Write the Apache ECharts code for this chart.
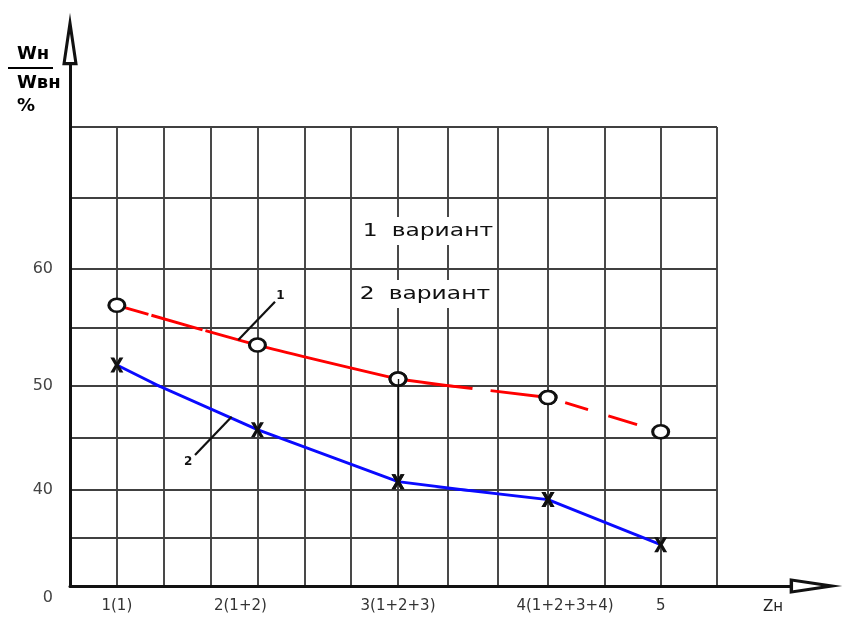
<!DOCTYPE html>
<html>
<head>
<meta charset="utf-8">
<script src="https://cdn.jsdelivr.net/npm/echarts@6/dist/echarts.min.js"></script>
<style>html,body{margin:0;padding:0;background:#fff}#c{width:843px;height:617px}</style>
</head>
<body>
<div id="c"></div>
<script>
// ---------------- data ----------------
const categories = ['1(1)', '2(1+2)', '3(1+2+3)', '4(1+2+3+4)', '5'];
const xPositions = [1, 4, 7, 10, 12];               // grid column of each category on the Zн axis
const variant1 = [56.9, 53.5, 50.6, 48.9, 45.6];    // 1 вариант (red, circles)
const variant2 = [51.8, 45.8, 40.8, 39.0, 34.3];    // 2 вариант (blue, crosses)
const seriesNames = ['1 вариант', '2 вариант'];
const yTickLabels = [40, 50, 60];
const yOriginLabel = '0';
const xAxisName = 'Zн';
const leader1 = [[3.59, 53.93], [4.375, 57.21]];    // pointer "1" to curve 1
const leader2 = [[3.45, 47.05], [2.668, 43.37]];    // pointer "2" to curve 2
const leaderLabels = ['1', '2'];

// ---------------- layout (hand-drawn, unevenly spaced grid) ----------------
const X_PIECES = [
  {min: 0, max: 7, left: 70, right: 398},
  {min: 7, max: 10, left: 398, right: 548},
  {min: 10, max: 13, left: 548, right: 717}
];
const Y_PIECES = [
  {min: 60, max: 70, top: 127, bottom: 269},
  {min: 50, max: 60, top: 269, bottom: 386},
  {min: 40, max: 50, top: 386, bottom: 490},
  {min: 30, max: 40, top: 490, bottom: 586}
];
const X_LABEL_STYLE = ['c', 'l', 'c', 'r', 'c'];
const GRID_COLOR = '#404040', GRID_W = 1.9;
const AXIS_COLOR = '#111';
const RED = '#ff0000', BLUE = '#0a0aff';
const ARROW = 'path://M5,0L10,34L0,34Z M5,13.6L2.3,31.8L7.7,31.8Z';
const CROSS = 'path://M0,0L3,0L5,3.9L7,0L10,0L6.6,6L10,12L7,12L5,8.1L3,12L0,12L3.4,6Z';
const FONT = 'DejaVu Sans';

const grids = [], xAxes = [], yAxes = [], series = [];
const gridKey = {};
const seriesByGrid = {};

Y_PIECES.forEach((yp, j) => {
  X_PIECES.forEach((xp, i) => {
    const gi = grids.length;
    gridKey[i + '_' + j] = gi;
    const isBottom = j === Y_PIECES.length - 1;
    const isLeft = i === 0;
    grids.push({left: xp.left, top: yp.top, width: xp.right - xp.left, height: yp.bottom - yp.top,
      containLabel: false, outerBoundsMode: 'none'});
    xAxes.push({
      type: 'value', gridIndex: gi, min: xp.min, max: xp.max, interval: 1,
      axisLine: {show: false, onZero: false}, axisTick: {show: false},
      splitLine: {show: true, showMinLine: false, showMaxLine: true, lineStyle: {color: GRID_COLOR, width: GRID_W}},
      axisLabel: {
        show: isBottom, margin: 13, showMinLabel: true, showMaxLabel: true,
        fontSize: 15, fontFamily: FONT, color: '#333',
        formatter: (v) => {
          const k = xPositions.indexOf(v);
          if (k < 0 || v <= xp.min) return '';
          return '{' + X_LABEL_STYLE[k] + '|' + categories[k] + '}';
        },
        rich: {
          c: {fontSize: 15, fontFamily: FONT, color: '#333'},
          l: {fontSize: 15, fontFamily: FONT, color: '#333', padding: [0, 34, 0, 0]},
          r: {fontSize: 15, fontFamily: FONT, color: '#333', padding: [0, 0, 0, 34]}
        }
      }
    });
    yAxes.push({
      type: 'value', gridIndex: gi, min: yp.min, max: yp.max, interval: 5,
      axisLine: {show: false, onZero: false}, axisTick: {show: false},
      splitLine: {show: true, showMinLine: false, showMaxLine: true, lineStyle: {color: GRID_COLOR, width: GRID_W}},
      axisLabel: {
        show: isLeft, margin: 17, showMinLabel: true, showMaxLabel: true,
        fontSize: 16, fontFamily: FONT, color: '#444',
        formatter: (v) => {
          if (isBottom && v === yp.min) return '{o|' + yOriginLabel + '}';
          if (v > yp.min && yTickLabels.indexOf(v) >= 0) return String(v);
          return '';
        },
        rich: {o: {fontSize: 16, fontFamily: FONT, color: '#444', padding: [23, 0, 0, 0]}}
      }
    });
  });
});

// axis lines with open arrows
const axGi = grids.length;
grids.push({left: 70, top: 65, right: 53, bottom: 31, containLabel: false, outerBoundsMode: 'none'});
const arrowLine = {show: true, onZero: false, symbol: ['none', ARROW], symbolSize: [15.5, 53], symbolOffset: [0, 26],
  lineStyle: {color: AXIS_COLOR, width: 3}};
xAxes.push({type: 'value', gridIndex: axGi, min: 0, max: 1, axisLine: arrowLine,
  axisTick: {show: false}, axisLabel: {show: false}, splitLine: {show: false},
  name: xAxisName, nameLocation: 'end', nameGap: -27,
  nameTextStyle: {fontSize: 15, fontFamily: FONT, color: '#222', align: 'left', verticalAlign: 'top', padding: [14, 0, 0, 0]}});
yAxes.push({type: 'value', gridIndex: axGi, min: 0, max: 1, axisLine: arrowLine,
  axisTick: {show: false}, axisLabel: {show: false}, splitLine: {show: false}});

// ---------------- series ----------------
const lineDefs = [
  {name: seriesNames[0], values: variant1, color: RED, symbol: 'circle', symbolSize: [16, 13],
   itemStyle: {color: '#fff', borderColor: '#111', borderWidth: 2.8},
   dashes: [[33, 3, 53, 3, 2000], [75, 18, 400], [0, 18, 24, 21, 30, 200]], smooth: 0.25},
  {name: seriesNames[1], values: variant2, color: BLUE, symbol: CROSS, symbolSize: [13, 15],
   itemStyle: {color: '#111'},
   dashes: ['solid', 'solid', 'solid'], smooth: false}
];

lineDefs.forEach((ld) => {
  X_PIECES.forEach((xp, i) => {
    const idx = xPositions.map((x, k) => k).filter(k => xPositions[k] >= xp.min && xPositions[k] <= xp.max);
    if (idx.length < 2) return;
    const ys = idx.map(k => ld.values[k]);
    const lo = Math.min.apply(null, ys), hi = Math.max.apply(null, ys);
    Y_PIECES.forEach((yp, j) => {
      if (hi < yp.min || lo > yp.max) return;
      const gi = gridKey[i + '_' + j];
      const s = {
        type: 'line', name: ld.name, xAxisIndex: gi, yAxisIndex: gi,
        data: idx.map(k => [xPositions[k], ld.values[k]]),
        clip: true, smooth: ld.smooth, silent: true, animation: false,
        symbol: ld.symbol, symbolSize: ld.symbolSize, showSymbol: true, showAllSymbol: true,
        itemStyle: ld.itemStyle,
        lineStyle: {color: ld.color, width: 2.9, type: ld.dashes[i]},
        z: 3
      };
      series.push(s);
      (seriesByGrid[gi] = seriesByGrid[gi] || []).push(s);
    });
  });
});

// ---------------- annotations (leader lines, connector) ----------------
function findGrid(p1, p2) {
  for (let j = 0; j < Y_PIECES.length; j++) {
    for (let i = 0; i < X_PIECES.length; i++) {
      const xp = X_PIECES[i], yp = Y_PIECES[j];
      const inside = (p) => p[0] >= xp.min && p[0] <= xp.max && p[1] >= yp.min && p[1] <= yp.max;
      const gi = gridKey[i + '_' + j];
      if (inside(p1) && inside(p2) && seriesByGrid[gi]) return gi;
    }
  }
  return -1;
}
function addAnnotation(p1, p2, extra) {
  const gi = findGrid(p1, p2);
  if (gi < 0) return;
  const s = seriesByGrid[gi][0];
  if (!s.markLine) {
    s.markLine = {silent: true, animation: false, symbol: ['none', 'none'], label: {show: false},
      lineStyle: {color: '#111', width: 2.2, type: 'solid'}, data: []};
  }
  s.markLine.data.push([Object.assign({coord: p1}, extra || {}), {coord: p2}]);
}
const leaderLabel = (text, pos, dist) => ({show: true, position: pos, formatter: () => text,
  color: '#111', fontSize: 12, fontWeight: 'bold', fontFamily: FONT, distance: dist});
addAnnotation(leader1[0], leader1[1], {label: leaderLabel(leaderLabels[0], 'end', 8)});
addAnnotation(leader2[0], leader2[1], {label: leaderLabel(leaderLabels[1], 'end', 10)});
// thin connector between the two variants at the third point, split at the scale breaks
(function () {
  const k = 2, x = xPositions[k];
  const top = Math.max(variant1[k], variant2[k]), bot = Math.min(variant1[k], variant2[k]);
  Y_PIECES.forEach((yp) => {
    const hi = Math.min(top, yp.max), lo = Math.max(bot, yp.min);
    if (hi > lo) addAnnotation([x, hi], [x, lo], {lineStyle: {width: 1.4}});
  });
})();

// ---------------- texts ----------------
const TITLE_FONT = 'bold 18px "DejaVu Sans"';
const graphic = [
  {type: 'text', x: 17, y: 45, z: 50, style: {text: 'Wн', font: TITLE_FONT, fill: '#000', verticalAlign: 'top'}},
  {type: 'line', z: 50, shape: {x1: 8, y1: 68, x2: 53, y2: 68}, style: {stroke: '#000', lineWidth: 2.2}},
  {type: 'text', x: 17, y: 74, z: 50, style: {text: 'Wвн', font: TITLE_FONT, fill: '#000', verticalAlign: 'top'}},
  {type: 'text', x: 17, y: 97, z: 50, style: {text: '%', font: TITLE_FONT, fill: '#000', verticalAlign: 'top'}},
  {type: 'text', x: 355, y: 231, scaleX: 1.3, z: 50, style: {
    text: '{n|1} вариант', fontSize: 18, fontFamily: FONT, fill: '#111', align: 'left', verticalAlign: 'middle',
    backgroundColor: '#fff', padding: [5, 3, 5, 6],
    rich: {n: {fontSize: 18, fontFamily: FONT, fill: '#111', padding: [0, 5, 0, 0]}}}},
  {type: 'text', x: 352, y: 294, scaleX: 1.3, z: 50, style: {
    text: '{n|2} вариант', fontSize: 18, fontFamily: FONT, fill: '#111', align: 'left', verticalAlign: 'middle',
    backgroundColor: '#fff', padding: [5, 3, 5, 6],
    rich: {n: {fontSize: 18, fontFamily: FONT, fill: '#111', padding: [0, 5, 0, 0]}}}}
];

const chart = echarts.init(document.getElementById('c'), null, {renderer: 'canvas'});
chart.setOption({
  animation: false,
  backgroundColor: '#fff',
  grid: grids,
  xAxis: xAxes,
  yAxis: yAxes,
  series: series,
  graphic: graphic
});
</script>
</body>
</html>
